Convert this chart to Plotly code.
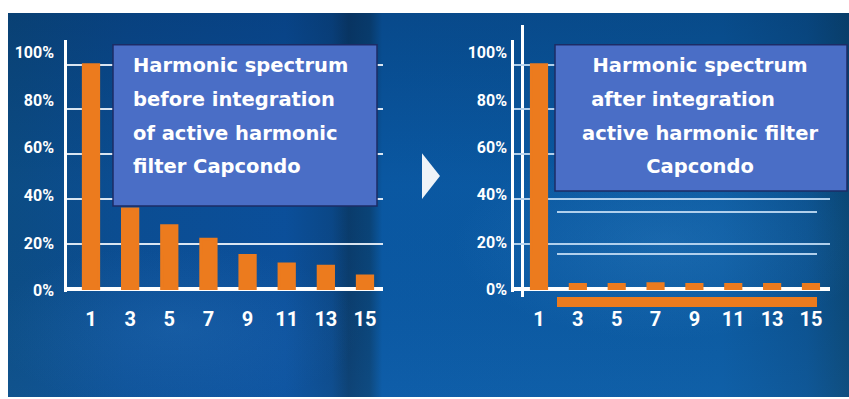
import base64
import plotly.graph_objects as go

W, H = 849, 399


def fx(p):
    return p / W


def fy(p):
    return 1 - p / H


# ---------------- data ----------------
harmonics = [1, 3, 5, 7, 9, 11, 13, 15]
before_pct = [100, 35.5, 28, 22, 14.8, 11, 10, 5.6]
after_pct = [100, 1.8, 1.8, 2.2, 1.8, 1.8, 1.8, 1.8]
y_tick_vals = [0, 20, 40, 60, 80, 100]
y_tick_text = ["0%", "20%", "40%", "60%", "80%", "100%"]
x_tick_text = ["1", "3", "5", "7", "9", "11", "13", "15"]
ghost_grid_vals = [20, 40, 60, 80]
before_title = ["Harmonic spectrum", "before integration", "of active harmonic", "filter Capcondo"]
after_title = ["Harmonic spectrum", "after integration\u00a0\u00a0\u00a0\u00a0\u00a0", "active harmonic filter", "Capcondo"]

# ---------------- styles ----------------
ORANGE = "#ec7b1e"
WHITE = "#ffffff"
GRID_L = "rgba(235,242,250,0.92)"
GRID_R = "rgba(185,214,240,0.95)"
BOX_FILL = "#4a6ec6"
BOX_LINE = "#1c2c66"
NARROW = "Roboto, Liberation Sans Narrow, sans-serif"
TITLE_FONT = "DejaVu Sans, Open Sans, sans-serif"

# background (gradient svg)
svg = """<svg xmlns='http://www.w3.org/2000/svg' width='841' height='386' viewBox='0 0 841 386' preserveAspectRatio='none'>
<defs>
<linearGradient id='g1' x1='0' y1='0' x2='1' y2='0'>
<stop offset='0' stop-color='#0c4d85'/>
<stop offset='0.14' stop-color='#0b4e94'/>
<stop offset='0.33' stop-color='#0b509c'/>
<stop offset='0.385' stop-color='#0b4888'/>
<stop offset='0.405' stop-color='#0a3c6c'/>
<stop offset='0.43' stop-color='#0a4478'/>
<stop offset='0.445' stop-color='#0a59a4'/>
<stop offset='0.85' stop-color='#0b5ba2'/>
<stop offset='0.95' stop-color='#0b5290'/>
<stop offset='1' stop-color='#0b4876'/>
</linearGradient>
<linearGradient id='g2' x1='0' y1='0' x2='0' y2='1'>
<stop offset='0' stop-color='#001a40' stop-opacity='0.25'/>
<stop offset='0.45' stop-color='#001a40' stop-opacity='0.02'/>
<stop offset='1' stop-color='#3a8ad8' stop-opacity='0.10'/>
</linearGradient>
<radialGradient id='g3' cx='0.78' cy='0.6' r='0.25'>
<stop offset='0' stop-color='#4fa0e0' stop-opacity='0.20'/>
<stop offset='1' stop-color='#4fa0e0' stop-opacity='0'/>
</radialGradient>
<radialGradient id='g4' cx='0.2' cy='0.82' r='0.22'>
<stop offset='0' stop-color='#3f8fd8' stop-opacity='0.18'/>
<stop offset='1' stop-color='#3f8fd8' stop-opacity='0'/>
</radialGradient>
</defs>
<rect width='841' height='386' fill='url(#g1)'/>
<rect width='841' height='386' fill='url(#g2)'/>
<rect width='841' height='386' fill='url(#g3)'/>
<rect width='841' height='386' fill='url(#g4)'/>
</svg>"""
bg_src = "data:image/svg+xml;base64," + base64.b64encode(svg.encode()).decode()

fig = go.Figure()

bar_style = dict(color=ORANGE, line=dict(color=ORANGE, width=3))

# left chart (before)
fig.add_trace(go.Bar(x=harmonics, y=before_pct, xaxis="x", yaxis="y",
                     marker=bar_style, width=0.78,
                     showlegend=False, hoverinfo="skip"))
# ghost copy behind the right chart
fig.add_trace(go.Scatter(x=[None], y=[None], xaxis="x2", yaxis="y2",
                         showlegend=False, hoverinfo="skip"))
# right chart (after)
fig.add_trace(go.Bar(x=harmonics, y=after_pct, xaxis="x3", yaxis="y3",
                     marker=bar_style, width=0.78,
                     showlegend=False, hoverinfo="skip"))
# label axes carriers
fig.add_trace(go.Scatter(x=[None], y=[None], xaxis="x", yaxis="y4",
                         showlegend=False, hoverinfo="skip"))
fig.add_trace(go.Scatter(x=[None], y=[None], xaxis="x3", yaxis="y5",
                         showlegend=False, hoverinfo="skip"))

xtick_font = dict(family=NARROW, size=20, color=WHITE, weight="bold")
ytick_font = dict(family=NARROW, size=16, color=WHITE, weight="bold")

common_x = dict(tickvals=harmonics, ticktext=x_tick_text, tickfont=xtick_font,
                showgrid=False, zeroline=False, showline=False,
                ticks="", ticklabelstandoff=13, fixedrange=True)
# 0 sits a few px above the domain bottom so the white zero line lies under the bars
common_y = dict(tickvals=y_tick_vals, showticklabels=False, showgrid=True,
                gridwidth=2, zeroline=True, zerolinecolor=WHITE, zerolinewidth=4,
                showline=True, linecolor=WHITE, linewidth=3, ticks="",
                range=[-1.5, 111.1], layer="below traces", fixedrange=True)

fig.update_layout(
    width=W, height=H,
    margin=dict(l=0, r=0, t=0, b=0),
    paper_bgcolor=WHITE,
    plot_bgcolor="rgba(0,0,0,0)",
    showlegend=False,
    xaxis=dict(domain=[fx(67), fx(383)], range=[-0.226, 15.92], anchor="y", **common_x),
    yaxis=dict(domain=[fy(293.4), fy(40)], anchor="x", gridcolor=GRID_L, **common_y),
    xaxis2=dict(domain=[fx(557), fx(817)], range=[0, 1], anchor="y2",
                showgrid=False, showticklabels=False, zeroline=False,
                showline=True, linecolor=ORANGE, linewidth=10, ticks="",
                fixedrange=True),
    yaxis2=dict(domain=[fy(298), fy(25)], range=[0, 128.5], anchor="free",
                position=fx(522), tickvals=ghost_grid_vals, showticklabels=False,
                showgrid=True, gridcolor=GRID_R, gridwidth=2, zeroline=False,
                showline=True, linecolor=WHITE, linewidth=3, ticks="",
                fixedrange=True),
    xaxis3=dict(domain=[fx(514), fx(830)], range=[-0.287, 15.98], anchor="y3", **common_x),
    yaxis3=dict(domain=[fy(293.4), fy(40)], anchor="x3", gridcolor=GRID_R, **common_y),
    yaxis4=dict(domain=[fy(300), fy(40)], range=[(292 - 300) / 2.39, (292 - 40) / 2.39],
                anchor="free", position=fx(54), tickvals=y_tick_vals, ticktext=y_tick_text,
                tickfont=ytick_font, showgrid=False, zeroline=False, showline=False,
                ticks="", fixedrange=True),
    yaxis5=dict(domain=[fy(300), fy(40)], range=[(291 - 300) / 2.38, (291 - 40) / 2.38],
                anchor="free", position=fx(507), tickvals=y_tick_vals, ticktext=y_tick_text,
                tickfont=ytick_font, showgrid=False, zeroline=False, showline=False,
                ticks="", fixedrange=True),
    images=[dict(source=bg_src, xref="paper", yref="paper", x=fx(8), y=fy(13),
                 sizex=fx(849) - fx(8), sizey=fy(13) - fy(399), sizing="stretch",
                 xanchor="left", yanchor="top", layer="below")],
)

# text boxes and arrow
fig.add_shape(type="rect", xref="paper", yref="paper", x0=fx(113), x1=fx(377),
              y0=fy(207), y1=fy(45), fillcolor=BOX_FILL,
              line=dict(color=BOX_LINE, width=1.5), layer="above")
fig.add_shape(type="rect", xref="paper", yref="paper", x0=fx(555), x1=fx(847),
              y0=fy(192), y1=fy(45), fillcolor=BOX_FILL,
              line=dict(color=BOX_LINE, width=1.5), layer="above")
tri = f"M {fx(422)},{fy(154)} L {fx(440)},{fy(177)} L {fx(422)},{fy(200)} Z"
fig.add_shape(type="path", xref="paper", yref="paper", path=tri,
              fillcolor="#eef3f8", line=dict(width=0), layer="above")


def block(lines, size):
    return "<br>".join(f"<span style='font-size:{size}px'>{t}</span>" for t in lines)


fig.add_annotation(xref="paper", yref="paper", x=fx(131), y=fy(52),
                   xanchor="left", yanchor="top", align="left", showarrow=False,
                   text=block(before_title, 19.5),
                   font=dict(family=TITLE_FONT, size=26, color=WHITE, weight="bold"))
fig.add_annotation(xref="paper", yref="paper", x=fx(700), y=fy(52),
                   xanchor="center", yanchor="top", align="center", showarrow=False,
                   text=block(after_title, 19.5),
                   font=dict(family=TITLE_FONT, size=26, color=WHITE, weight="bold"))

fig.write_html("out.html", config={"displayModeBar": False})
